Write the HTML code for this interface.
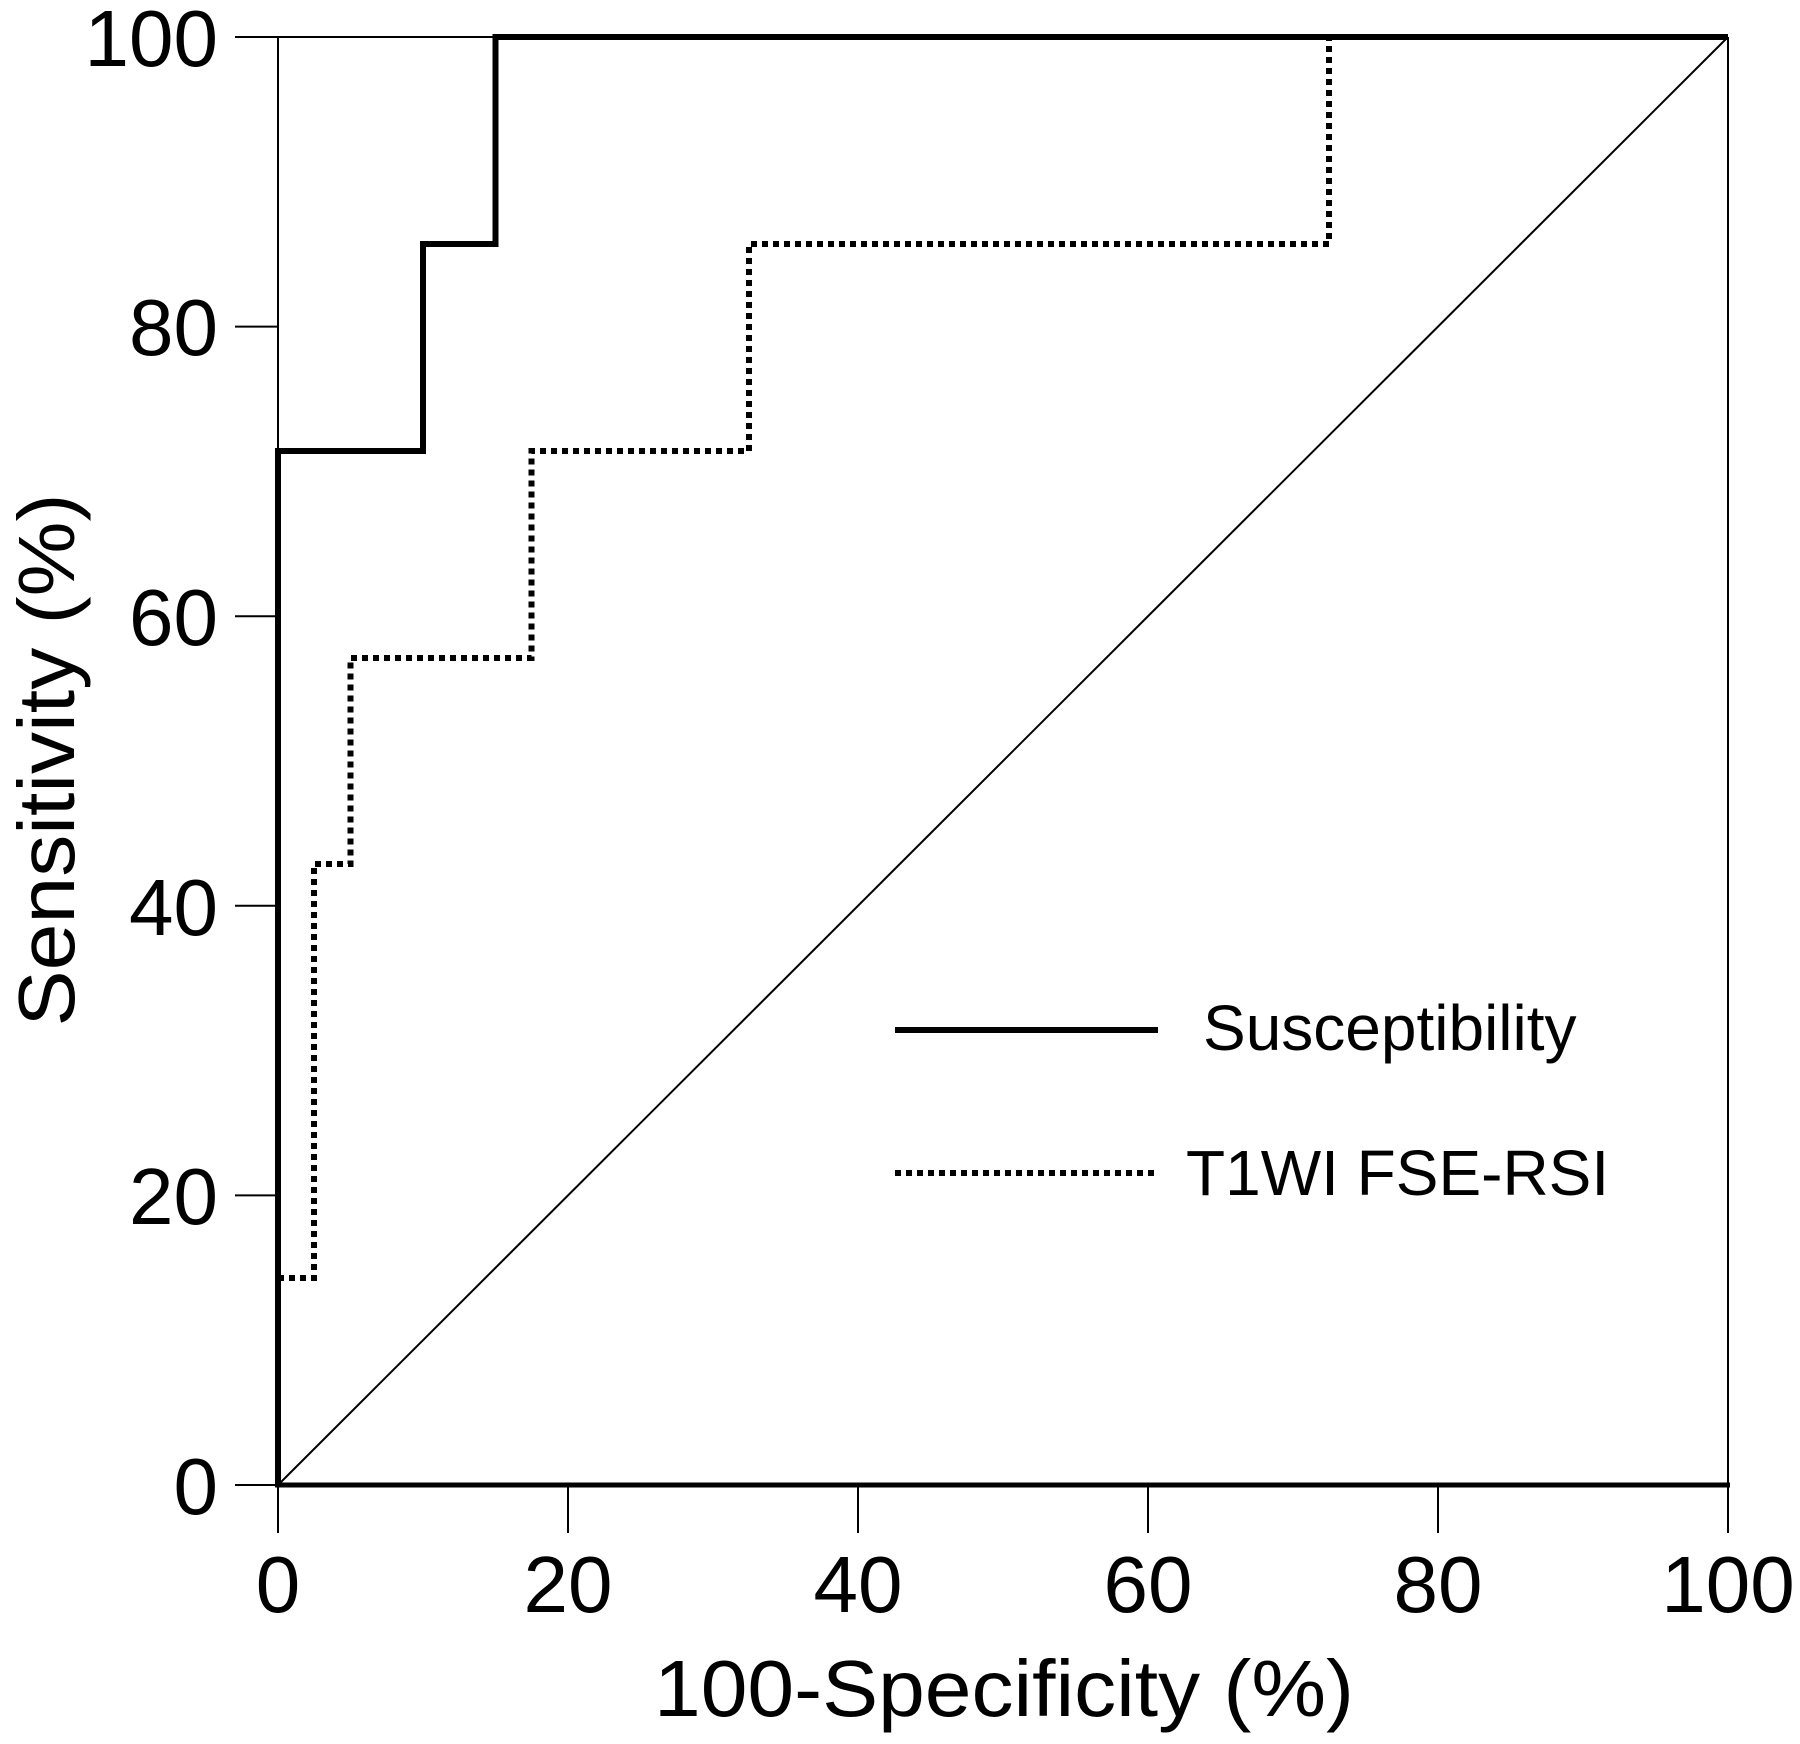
<!DOCTYPE html>
<html><head><meta charset="utf-8"><style>html,body{margin:0;padding:0;background:#fff}svg{display:block}</style></head>
<body>
<svg width="1800" height="1744" viewBox="0 0 1800 1744" xmlns="http://www.w3.org/2000/svg" font-family="Liberation Sans, Arial, sans-serif">
<rect width="1800" height="1744" fill="#fff"/>
<g stroke="#000" stroke-width="2" fill="none">
<line x1="278" y1="37" x2="1728" y2="37"/>
<line x1="1728" y1="37" x2="1728" y2="1533"/>
<line x1="278" y1="37" x2="278" y2="1533"/>
<line x1="278" y1="1485" x2="1728" y2="1485"/>
<line x1="278" y1="1485" x2="1728" y2="37"/>
<line x1="235" y1="37" x2="278" y2="37"/>
<line x1="235" y1="326.6" x2="278" y2="326.6"/>
<line x1="235" y1="616.2" x2="278" y2="616.2"/>
<line x1="235" y1="905.8" x2="278" y2="905.8"/>
<line x1="235" y1="1195.4" x2="278" y2="1195.4"/>
<line x1="235" y1="1485" x2="278" y2="1485"/>
<line x1="568" y1="1485" x2="568" y2="1533"/>
<line x1="858" y1="1485" x2="858" y2="1533"/>
<line x1="1148" y1="1485" x2="1148" y2="1533"/>
<line x1="1438" y1="1485" x2="1438" y2="1533"/>
</g>
<line x1="275" y1="1485" x2="1730" y2="1485" stroke="#000" stroke-width="5"/>
<polyline fill="none" stroke="#000" stroke-width="6" stroke-linejoin="miter" points="278,1485 278,451 423,451 423,244 495.5,244 495.5,37 1728,37"/>
<polyline fill="none" stroke="#000" stroke-width="6" stroke-dasharray="6,5" points="278,1278 314,1278 314,864 350.5,864 350.5,658 531.5,658 531.5,451 749,451 749,244 1329,244 1329,37"/>
<g font-size="80" fill="#000" text-anchor="end">
<text x="218" y="66">100</text>
<text x="218" y="355">80</text>
<text x="218" y="645">60</text>
<text x="218" y="935">40</text>
<text x="218" y="1224">20</text>
<text x="218" y="1514">0</text>
</g>
<g font-size="80" fill="#000" text-anchor="middle">
<text x="278" y="1612">0</text>
<text x="568" y="1612">20</text>
<text x="858" y="1612">40</text>
<text x="1148" y="1612">60</text>
<text x="1438" y="1612">80</text>
<text x="1728" y="1612">100</text>
</g>
<text x="1004" y="1716" font-size="80" text-anchor="middle" textLength="700" lengthAdjust="spacingAndGlyphs">100-Specificity (%)</text>
<text transform="translate(74,760) rotate(-90)" font-size="80" text-anchor="middle" textLength="533" lengthAdjust="spacingAndGlyphs">Sensitivity (%)</text>
<line x1="895" y1="1030" x2="1158" y2="1030" stroke="#000" stroke-width="6"/>
<line x1="895" y1="1173" x2="1158" y2="1173" stroke="#000" stroke-width="6" stroke-dasharray="6,5"/>
<text x="1203" y="1050" font-size="64">Susceptibility</text>
<text x="1186" y="1195" font-size="64">T1WI FSE-RSI</text>
</svg>
</body></html>
